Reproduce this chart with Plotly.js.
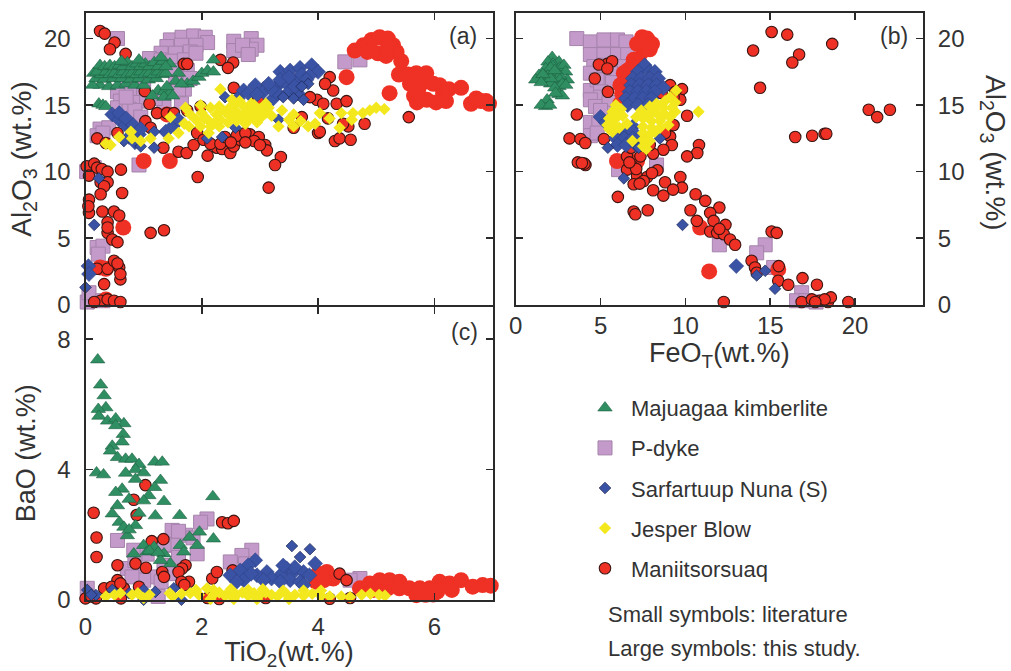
<!DOCTYPE html>
<html>
<head>
<meta charset="utf-8">
<script src="https://cdn.plot.ly/plotly-3.0.1.min.js"></script>
<style>html,body{margin:0;padding:0;background:#fff}#c{width:1011px;height:671px}</style>
</head>
<body>
<div id="c"></div>
<script>
const seriesNames = ["Majuagaa kimberlite","P-dyke","Sarfartuup Nuna (S)","Jesper Blow","Maniitsorsuaq"];
const noteLines = ["Small symbols: literature","Large symbols: this study."];

// Panel (a): TiO2 vs Al2O3, [x, y] pairs
const aGreen = [[.23,15.1],[.3,15],[.35,14.9],[.25,16.5],[.4,16.4],[.55,16.5],[.7,16.6],[.85,16.5],[1,16.5],[.12,16.5],[.18,17],[.32,16.95],[.48,17],[.62,17],[.78,16.95],[.92,17],[1.08,16.9],[1.22,17],[.14,17.4],[.27,17.3],[.2,17.5],[.35,17.5],[.42,17.3],[.5,17.4],[.58,17.3],[.65,17.5],[.72,17.3],[.8,17.4],[.88,17.3],[.95,17.5],[1.02,17.3],[1.1,17.4],[1.18,17.3],[1.25,17.5],[1.32,17.3],[1.38,17.4],[.25,18],[.33,17.9],[.42,18],[.5,17.9],[.58,18],[.65,17.9],[.72,18.2],[.8,17.9],[.88,18.1],[.95,17.9],[1.03,18.1],[1.1,17.9],[1.18,18.2],[1.25,17.9],[1.33,18.3],[1.45,18.1],[.62,18.3],[.92,18.4],[1.3,18.6],[1.38,17.9],[1.25,16.1],[1.35,16],[1.45,15.9],[1.15,15.7],[1.35,15.6],[1.5,15.7],[1.6,17.4],[1.55,16.8],[1.75,16.6],[1.85,16.8],[1.95,17.1],[2,17.4],[2.1,17.6],[2.2,17.5],[2.2,18.4],[1.65,16.6],[1.4,16.4]];
const aPurple = [[.55,20],[1.46,19.9],[1.66,20.1],[1.86,20.2],[2.06,20.1],[2.1,19.7],[1.4,19.4],[1.65,19.5],[1.9,19.5],[1.3,18.9],[1.55,18.9],[1.8,19],[1.1,18.5],[1.3,18.4],[1.5,18.3],[1.7,18.4],[1.9,18.9],[1.75,17.6],[1.55,17.6],[1.8,17],[1.55,16.6],[1.7,16.2],[1.35,15],[1.2,15.5],[2.55,19.8],[2.85,20],[2.95,19.5],[2.55,19.1],[2.85,19.2],[2.7,19.5],[2.8,18.8],[.55,16],[.8,16],[1,16],[.6,15.3],[.85,15.2],[1.05,15.3],[.55,14.8],[.75,14.7],[.85,14.6],[.95,14.1],[.7,15.6],[.7,17],[1,17],[1.6,16.2],[1.65,15.1],[.25,13.2],[.4,13.3],[.2,12.7],[.3,12.9],[4.46,18.25],[4.72,18.4],[.92,10.5],[.15,10.3],[.02,10],[.2,4.3],[.3,4.4],[.22,3.8],[.03,.2],[.06,.9],[.3,.3]];
const aRedSmall = [[.25,20.57],[.33,20.37],[.5,19.7],[.42,19.2],[.69,18.85],[1.69,18.1],[1.75,18.1],[2.32,18.4],[2.54,18.2],[2.45,17.8],[1.02,16.05],[1.1,15.1],[.2,12.5],[.35,12.15],[.55,12.9],[1.03,13.8],[1.12,13.3],[1.23,14.4],[1.4,14.4],[1.52,14.4],[1.34,11.8],[1.6,11.5],[1.74,11.4],[1.86,12],[2.1,11.2],[2.26,11.8],[2.35,11.7],[2.49,11.4],[2.55,11.9],[2.66,12.4],[2.83,12.8],[2.98,12.6],[3.09,12],[3.12,11.6],[3.36,11.1],[3.26,10.5],[1.93,9.6],[3.15,8.8],[1.92,12.9],[2.03,12.4],[2.15,12.1],[2.32,12.1],[2.4,12.6],[2.6,12.7],[2.75,12.9],[2.9,12.3],[3,12],[2.5,12.2],[2.75,12.2],[1.75,14.6],[1.98,14.9],[2.55,16.3],[2.97,15.5],[3.12,16.4],[3.98,15.4],[3.86,15.6],[4.09,15.1],[4.2,17.1],[4.26,16.1],[4.12,16.6],[4.32,15.1],[4.49,15.3],[4,12.9],[4.03,13],[4.29,12.3],[4.37,12.5],[4.56,12.4],[4.8,13.6],[4.52,13.4],[4.43,13.6],[4.17,14],[3.58,13.3],[3.72,14.1],[5.56,14.1],[.02,10.4],[.15,10.6],[.2,10.3],[.28,10.2],[.38,10],[.06,9.7],[.26,9.2],[.38,9.2],[.32,8.9],[.26,8.3],[.61,10.15],[.63,8.4],[.06,7.9],[.06,6.9],[.05,7.4],[.29,7],[.49,7],[.58,6.7],[.38,6.2],[.38,5.4],[.38,5.8],[.46,4.9],[.55,4.7],[1.12,5.4],[1.35,5.6],[.2,2.7],[.38,2.7],[.49,3.3],[.58,2.8],[.55,3.1],[.6,1.9],[.6,2.3],[.32,1.55],[.26,.3],[.38,.4],[.49,.3],[.6,.2],[.15,.2]];
const aRedLarge = [[1,10.8],[1.45,10.8],[.65,5.8],[5.23,15.9],[4.49,17.1],[4.63,19.1],[4.78,19.5],[4.92,19.9],[5.06,20.1],[5.2,20],[5.29,19.5],[5.35,19],[5.43,18.3],[5.03,18.9],[5.17,18.7],[4.85,19],[5.2,19.3],[5.39,17.3],[5.55,17.3],[5.69,17.4],[5.86,17.4],[5.58,16.6],[5.8,16.7],[5.65,15.7],[5.7,15.2],[5.87,15.4],[6.03,15.2],[6.15,15.9],[6.09,16.5],[6.25,16.2],[6.46,16.3],[5.98,16.6],[6.2,15.3],[5.72,16.1],[6.63,15.1],[6.72,15.5],[6.89,15.3],[6.94,15.1],[6.8,15.3],[.25,2.8],[.35,2.7],[.35,.4],[1.4,14.3]];
const aBlueSmall = [[.66,12.3],[.23,9.5],[.15,6],[0,1.3],[.95,11.9],[1.18,11.8],[1.18,13],[2.09,12.5],[2.35,12.6],[2.58,13.3],[2.4,15.6],[3.32,13.9],[3.58,15.5],[3.75,15.4],[3.4,15.6],[3.83,16.6],[3.72,16.4]];
const aBlueLarge = [[.46,14.3],[.58,13.9],[.69,13.5],[.8,13.1],[.92,12.8],[.58,14.4],[.7,14],[.82,13.5],[.95,13.2],[.75,12.6],[.85,12.2],[.05,2.9],[.06,2.3],[1.38,13],[1.52,13.5],[1.6,13.9],[2.62,15.5],[2.72,16.1],[2.92,16.5],[2.8,15.9],[3.06,16],[3.23,15.5],[3.35,17.5],[3.52,17.6],[3.69,17.8],[3.89,18],[4,17.5],[3.29,16.4],[3.46,16.6],[3.63,16.9],[3.35,16.9],[3.5,17.1],[3.72,17.3],[3.85,17.2],[3.3,15.9],[3.5,16],[3.2,16.2],[3.65,15.9],[2.95,15.8],[3.8,16.9],[3.6,16.4],[3.15,16.6]];
const aYellow = [[.35,12.1],[.43,12],[.58,12.6],[.78,13],[.8,12.5],[.95,12.3],[1.12,12.5],[1.43,12.5],[1.6,12.9],[1.46,14.1],[1.72,14.8],[1.8,14.3],[1.78,13.4],[1.7,13.6],[1.98,15],[1.98,13.4],[1.9,13.9],[2.12,12.9],[2,14.4],[2.05,14],[2.15,14.8],[2.1,13.9],[2.15,13.4],[2.2,13.6],[2.25,14.3],[2.3,14.9],[2.32,13.9],[2.3,13.4],[2.4,14.5],[2.45,13.7],[2.5,14.9],[2.5,14.1],[2.6,14.5],[2.6,13.8],[2.65,15.3],[2.7,15],[2.7,14.2],[2.75,13.6],[2.8,14.6],[2.8,13.9],[2.85,15.1],[2.9,15],[2.9,14.3],[2.95,13.7],[3,14.7],[3,14],[3.1,14.4],[3.1,15.1],[3.15,14.8],[3.2,14.2],[2.32,16.2],[2.52,15.4],[2.55,15],[3.38,14.6],[3.32,13.4],[3.58,14.3],[3.58,13.4],[3.5,13.9],[3.7,13.8],[3.83,13.4],[4.03,14.4],[3.95,13.6],[4.2,14],[4.37,13.3],[4.4,14.4],[4.6,14.4],[4.58,13.9],[4.77,14.4],[4.89,14.6],[5,14.8],[5.14,14.7]];

// Panel (b): FeOT vs Al2O3
const bGreen = [[2.15,18.6],[1.9,18.25],[2.55,18.25],[2.2,18.1],[1.76,17.75],[2.2,17.9],[2.6,17.8],[2.84,18],[1.37,17.25],[2.94,17.5],[1.18,16.9],[3.04,16.9],[1.65,16.8],[2.35,17.4],[2.06,17.8],[2.6,17.2],[1.9,17.2],[2.2,16.9],[2.6,16.9],[2.06,16.6],[2.55,16.4],[2.75,16.6],[2.95,16.5],[2.3,16.3],[2.55,15.8],[2.75,15.7],[2.35,15.9],[1.76,15.1],[1.76,14.9],[1.85,15.4],[1.5,15],[2,15],[2.06,17],[1.6,17.3],[1.5,16.7],[2.3,17.6]];
const bPurple = [[3.6,20],[4.4,19.75],[5.2,19.9],[6,19.9],[6.5,19.75],[4.4,18.8],[5.2,18.8],[6,18.8],[6.6,18.8],[4.6,17.9],[5.4,17.5],[6,17.4],[6.4,17.9],[5.2,18],[4.4,17.4],[5.1,16.9],[5.7,16.7],[4.4,16.1],[4.8,16.9],[5,16],[5,15.6],[4.4,15.4],[4.7,14.9],[5.5,15.2],[5.5,14.4],[5,14.6],[4.4,13.7],[4.9,13.7],[4.4,12.7],[4.8,12.9],[6.06,10.15],[8.3,10.5],[12,4.5],[14.7,4.5],[14.2,3.9],[15.2,2.8],[16.85,.9],[16.55,.3],[17.1,.3],[17.7,.2]];
const bRedSmall = [[15.08,20.5],[16,20.3],[18.65,19.6],[13.99,19.1],[16.7,18.8],[16.3,18.2],[14.4,16.3],[20.8,14.65],[21.3,14.1],[22.05,14.65],[16.47,12.6],[17.47,12.7],[18.2,12.85],[18.3,12.85],[5.4,18.1],[4.9,18.05],[5.68,18.3],[5.4,17.75],[4.66,17],[5.43,16],[3.6,14.3],[3.17,12.5],[3.82,12.45],[4.1,12.15],[3.66,10.7],[4.11,10.5],[4.05,10.6],[3.9,10.65],[5.2,12.45],[10.1,14.2],[10.8,12],[10.7,11.4],[10.1,11.15],[9.1,16.5],[9.8,16.2],[9.4,16],[9.7,15.4],[9.3,15.6],[7.97,16.1],[9.3,13.5],[9.1,12.65],[9.2,12],[8.7,11.65],[8.1,11.35],[8.8,12.9],[6.56,11.15],[6.86,10.4],[6.56,10.15],[7.15,9.65],[6.95,9.05],[7.75,9.6],[8.35,10.1],[7.54,9.3],[7.3,9.1],[7.1,10.2],[6.7,10.7],[8.03,9.9],[7.35,11.15],[8.8,9.2],[9.7,9.6],[9.8,8.8],[9.27,8.65],[8.7,8.2],[8.1,8.6],[6.02,8.1],[6.95,7],[7.05,6.8],[7.78,7.1],[10.6,8.3],[11.17,7.8],[10.3,7.1],[10.67,6.3],[12,7.3],[11.46,6.9],[11.66,6.3],[12.36,6],[11.46,5.5],[11.87,5.4],[12.26,5.3],[12.63,4.9],[12.93,4.5],[12,5.7],[15.08,5.5],[15.38,5.4],[13.9,3.3],[14.1,2.8],[14.2,2.4],[15.47,1.8],[16.06,1.5],[16.9,2],[17.75,1.5],[12.26,.2],[16.85,.2],[17.45,.4],[17.9,.3],[18.4,.2],[18.57,.55],[18.2,.4],[17.65,.2],[19.6,.2],[15.5,2.9],[8.6,15.9],[6.2,13],[6.8,11.8],[7.9,12]];
const bRedLarge = [[7.45,20.1],[7.74,20],[8.03,19.6],[7.53,19.1],[7.25,18.4],[6.95,18.4],[6.37,17.4],[6.56,16.9],[7.15,19.6],[6.86,17.9],[7.5,19.6],[7.9,19.2],[6.6,17.6],[6.17,16.5],[6.17,15.1],[6.27,15.9],[5.97,10.8],[7.15,10.8],[10.87,5.8],[11.4,2.5],[15.47,2.65]];
const bBlueSmall = [[5.43,11.8],[6.37,9.5],[9.83,6],[14.2,2.2],[14.7,2.55],[15.28,1.2],[8.5,12.5],[7.25,11.8]];
const bBlueLarge = [[7.6,18],[7.2,17.5],[7.9,17.5],[8.2,17.5],[6.9,17],[7.4,17],[7.9,17],[8.4,17],[6.8,16.5],[7.3,16.5],[7.8,16.5],[8.3,16.5],[8.7,16.3],[6.7,16],[7.2,16],[7.7,16],[8.2,16],[6.5,15.5],[7,15.5],[7.5,15.5],[8,15.5],[6.6,15],[7.2,15],[7.8,15],[5,14.1],[5.3,13.7],[13,2.9],[6.9,13.4],[6.4,13],[6.9,13],[5.9,12.5],[6.4,12.5],[6.9,12.5],[7.3,12.5],[6,12],[6.5,12],[7.1,12]];
const bYellow = [[5.9,15],[6.2,14.7],[5.7,14.5],[6.3,14.2],[5.5,14],[5.9,14],[6.1,14.3],[5.4,13.5],[5.8,13.5],[6.1,13.3],[5.7,13],[5.5,13.2],[6.56,13.6],[9.1,15.6],[9.4,15.2],[8.8,15.3],[8.3,15.1],[8.7,14.8],[9.2,14.8],[7.9,14.9],[8.1,14.5],[8.3,14.4],[8.8,14.3],[9.1,14.1],[9.4,14.5],[7.4,14.6],[7.8,14.3],[7.1,14.1],[7.5,14],[8,13.8],[8.5,13.8],[9,13.5],[7.5,13.4],[8,13.3],[8.5,13.3],[7.5,12.9],[7.9,12.8],[8.2,13],[7.5,12.4],[7.9,12.3],[7.5,11.9],[7.7,11.7],[6.88,12.3],[9.46,16.1],[10.77,14.5]];

// Panel (c): TiO2 vs BaO
const cGreen = [[.21,7.37],[.26,6.6],[.32,6.27],[.35,5.9],[.22,5.85],[.23,5.64],[.38,5.49],[.52,5.56],[.66,5.41],[.52,5.35],[.65,5.08],[.63,4.85],[.46,4.72],[.43,4.57],[.55,4.37],[.69,4.32],[.8,4.32],[.92,4.16],[.86,4],[1,3.9],[.69,3.89],[.86,3.7],[.19,3.9],[.31,3.84],[1.19,4.23],[1.32,4.23],[1.29,3.67],[1.19,3.45],[1.09,3.2],[1,3.04],[1.35,3.02],[.63,3.4],[.52,3.3],[.75,3.09],[.55,2.89],[.46,2.64],[.92,2.66],[1.2,2.58],[1.62,2.59],[2.19,3.17],[.58,2.38],[.66,2.23],[.86,2.28],[.72,1.97],[.75,2.15],[1.96,2.08],[2.2,1.87],[1.79,1.92],[1.92,1.67],[1.63,1.67],[1.69,1.47],[1,1.67],[1.18,1.62],[.83,1.41],[1.06,1.47],[1.35,1.41],[1.46,1.11],[1.29,1.21],[1.1,1.5],[1.25,1.45]];
const cPurple = [[.55,1.82],[.83,1.52],[1.06,1.4],[2.09,2.48],[1.98,2.38],[1.49,2.13],[1.72,1.98],[1.6,2.1],[1.85,1.9],[1.92,1.41],[1.52,1.67],[1.35,1.7],[2.86,1.52],[2.69,1.36],[2.49,1.16],[.72,.96],[.85,1.2],[.95,.85],[1.12,.7],[1.3,.55],[1,.6],[.03,.35],[1.25,.1],[4.72,.65],[4.55,.6],[1.35,1.05],[.8,.7],[1.45,.8],[1.6,1.3],[2.75,1.1]];
const cRedSmall = [[1.03,3.52],[.83,3.07],[.14,2.67],[.88,2.6],[.19,1.91],[.19,1.31],[1.14,1.8],[1.34,1.86],[2.35,2.38],[2.45,2.35],[2.55,2.42],[.55,1.06],[.86,1.11],[1.04,.98],[1.72,1.06],[1.66,.96],[1.6,.85],[1.32,.85],[1.35,.7],[.55,.6],[.66,.35],[.32,.35],[.92,.4],[1.78,.55],[1.65,.55],[2.18,.65],[2.26,.85],[2.53,.9],[.18,.04],[.61,.04],[0,.04],[.45,.4],[.6,.5],[.1,.1],[2.3,.02],[3.1,.05],[4.37,.8],[4.49,.6],[4.2,.03],[4.55,.05],[1.7,.45],[2.1,.05]];
const cRedLarge = [[4,.8],[4.15,.85],[4.26,.65],[3.97,.55],[4.1,.6],[4.72,.35],[4.89,.5],[5.06,.6],[5.23,.6],[5.4,.55],[4.95,.3],[5.2,.35],[5.4,.35],[5.57,.35],[5.75,.35],[5.69,.14],[5.92,.35],[5.85,.15],[6.09,.55],[6.05,.25],[6.26,.5],[6.3,.3],[6.46,.6],[6.66,.4],[6.83,.45],[6.97,.43],[5.98,.16]];
const cBlueSmall = [[3.55,1.65],[3.86,1.55],[3.69,1.31],[.03,.3],[.18,.14],[.46,.3],[1,.3],[1.2,.24],[1.52,.35],[1,0],[1.65,0],[.1,.15],[.75,.2]];
const cBlueLarge = [[3.95,1.11],[2.92,1.21],[2.8,1.06],[2.66,.9],[2.49,.75],[3.12,.85],[2.95,.75],[3.46,.96],[3.58,.85],[3.75,.85],[3.35,.75],[3.52,.6],[3.69,.55],[3.2,.65],[3.06,.6],[2.72,.6],[3.75,.45],[3.85,.75],[3.6,1],[3.4,1.05],[2.85,.8],[2.6,.55],[3.35,.55]];
const cYellow = [[.35,.1],[.5,.15],[.6,.2],[.8,.15],[.9,.2],[1,.05],[1.1,.15],[1.45,.2],[1.5,.1],[1.65,.18],[1.8,.2],[1.95,.15],[2.09,.35],[2.2,.15],[2.3,.22],[2.4,.12],[2.5,.22],[2.6,.15],[2.7,.22],[2.8,.12],[2.9,.2],[3,.15],[3.1,.22],[3.2,.15],[3.3,.1],[3.45,.18],[3.6,.15],[3.75,.12],[3.9,.18],[4.05,.12],[4.2,.1],[4.4,.1],[4.55,.08],[4.75,.15],[4.9,.18],[5.05,.15],[5.15,.12],[1.9,.3],[2.2,.3],[2.5,.32],[2.8,.3],[3.05,.32],[2.15,.02],[2.55,.02],[2.95,.02],[3.5,.02],[3.4,.28],[3.75,.28],[4.05,.28]];

const col = {green:'#2f8f63', purple:'#c49aca', blue:'#3a53a4', yellow:'#f3e81e', red:'#ee3124', ink:'#2a2a2a', text:'#333'};
const styles = {
  purple:{symbol:'square', size:14, color:col.purple, line:{color:'#a583ab', width:1}},
  redS:{symbol:'circle', size:11.5, color:col.red, line:{color:'#3a1512', width:1.1}},
  redL:{symbol:'circle', size:16, color:col.red, line:{width:0}},
  green:{symbol:'triangle-up', size:12.5, color:col.green, line:{color:'#1f5f42', width:.6}},
  blueS:{symbol:'diamond', size:9, color:col.blue, line:{color:'#1b2550', width:.7}},
  blueL:{symbol:'diamond', size:11.5, color:col.blue, line:{color:'#2c3f80', width:.5}},
  yellow:{symbol:'diamond', size:9.5, color:col.yellow, line:{width:0}}
};
function tr(pairs, st, xa, ya, legendName, rank){
  return {type:'scatter', mode:'markers', x:pairs.map(p=>p[0]), y:pairs.map(p=>p[1]),
    xaxis:xa, yaxis:ya, cliponaxis:false, marker:styles[st], hoverinfo:'skip',
    name:legendName||'', showlegend:!!legendName, legendgroup:legendName||undefined, legendrank:rank||1000};
}
const data = [
  tr(aPurple,'purple','x','y',seriesNames[1],2),
  tr(aRedLarge,'redL','x','y'),
  tr(aRedSmall,'redS','x','y',seriesNames[4],5),
  tr(aGreen,'green','x','y',seriesNames[0],1),
  tr(aBlueLarge,'blueL','x','y'),
  tr(aBlueSmall,'blueS','x','y',seriesNames[2],3),
  tr(aYellow,'yellow','x','y',seriesNames[3],4),
  tr(bPurple,'purple','x2','y2'),
  tr(bRedLarge,'redL','x2','y2'),
  tr(bRedSmall,'redS','x2','y2'),
  tr(bGreen,'green','x2','y2'),
  tr(bBlueLarge,'blueL','x2','y2'),
  tr(bBlueSmall,'blueS','x2','y2'),
  tr(bYellow,'yellow','x2','y2'),
  tr(cPurple,'purple','x3','y3'),
  tr(cRedLarge,'redL','x3','y3'),
  tr(cRedSmall,'redS','x3','y3'),
  tr(cGreen,'green','x3','y3'),
  tr(cBlueLarge,'blueL','x3','y3'),
  tr(cBlueSmall,'blueS','x3','y3'),
  tr(cYellow,'yellow','x3','y3')
];
const W=1011, H=671, F='"Liberation Sans", Arial, sans-serif';
const base = {showgrid:false, zeroline:false, showline:true, mirror:'ticks', linecolor:col.ink, linewidth:2,
  ticks:'inside', ticklen:7, tickwidth:1.6, tickcolor:col.ink,
  tickfont:{family:F,size:24,color:col.text}, ticklabelstandoff:8};
const tf = {family:F,size:27,color:col.text};
const tfAl = {family:F,size:28,color:col.text};
const note = (text,x,y,size,xanchor)=>({text, x:x/W, y:1-y/H, xref:'paper', yref:'paper', xanchor:xanchor||'left', yanchor:'middle',
  showarrow:false, font:{family:F,size:size,color:col.text}});
const layout = {
  width:W, height:H, margin:{l:0,r:0,t:0,b:0}, paper_bgcolor:'#fff', plot_bgcolor:'#fff',
  xaxis:{...base, domain:[85.5/W,492.5/W], range:[0,7], anchor:'y', tickvals:[0,2,4,6], showticklabels:false},
  yaxis:{...base, domain:[1-304.7/H,1-13.3/H], range:[0,21.9], anchor:'x', tickvals:[0,5,10,15,20],
    title:{text:'Al<sub>2</sub>O<sub>3</sub> (wt.%)', font:tfAl, standoff:4}},
  xaxis2:{...base, domain:[515.7/W,923/W], range:[0,24], anchor:'y2', tickvals:[0,5,10,15,20], ticklabelstandoff:-2,
    title:{text:'FeO<sub>T</sub>(wt.%)', font:tf, standoff:2}},
  yaxis2:{...base, domain:[1-304.7/H,1-13.3/H], range:[0,21.9], anchor:'x2', side:'right', tickvals:[0,5,10,15,20]},
  xaxis3:{...base, domain:[85.5/W,492.5/W], range:[0,7], anchor:'y3', tickvals:[0,2,4,6], ticklabelstandoff:4,
    title:{text:'TiO<sub>2</sub>(wt.%)', font:tf, standoff:2}},
  yaxis3:{...base, domain:[1-599.7/H,1-306.7/H], range:[0,9], anchor:'x3', tickvals:[0,4,8],
    title:{text:'BaO (wt.%)', font:tf, standoff:14}},
  showlegend:true,
  legend:{x:579/W, y:1-387/H, xanchor:'left', yanchor:'top', bgcolor:'rgba(0,0,0,0)', borderwidth:0,
    font:{family:F,size:22,color:col.text}, traceorder:'grouped', tracegroupgap:8.5, itemwidth:42, itemclick:false, itemdoubleclick:false},
  annotations:[
    note('(a)',463,36,23,'center'), note('(b)',894,36,23,'center'), note('(c)',464,332,23,'center'),
    note(noteLines[0],606,614,22), note(noteLines[1],606,648,22),
    {text:'Al<sub>2</sub>O<sub>3</sub> (wt.%)', x:993/W, y:1-153/H, xref:'paper', yref:'paper', textangle:90, showarrow:false,
     xanchor:'center', yanchor:'middle', font:tfAl}
  ]
};
Plotly.newPlot('c', data, layout, {staticPlot:true, displayModeBar:false});
</script>
</body>
</html>
